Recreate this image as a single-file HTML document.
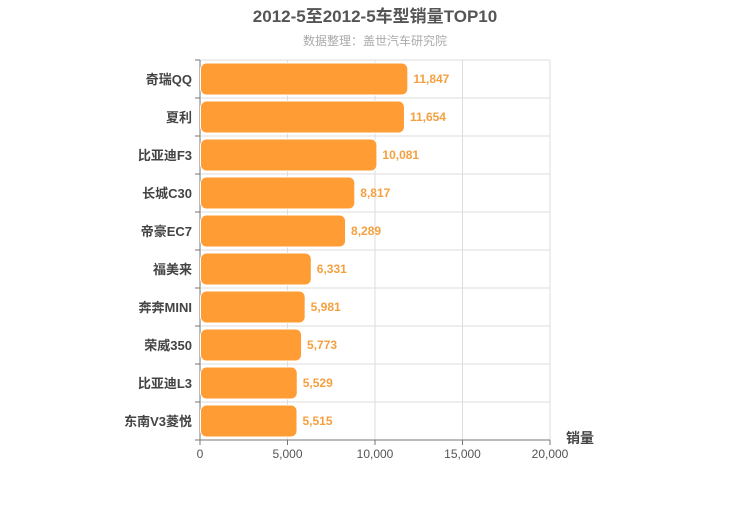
<!DOCTYPE html>
<html><head><meta charset="utf-8"><style>body{margin:0;background:#fff}svg text{font-family:"Liberation Sans","Noto Sans CJK SC",sans-serif}</style></head>
<body>
<svg id="c" width="750" height="500" xmlns="http://www.w3.org/2000/svg">
<text x="375" y="22" text-anchor="middle" font-size="17" font-weight="bold" fill="#555">2012-5至2012-5车型销量TOP10</text>
<text x="375" y="45" text-anchor="middle" font-size="12" fill="#aaa">数据整理：盖世汽车研究院</text>
<g id="g"></g>
<text x="580" y="443" text-anchor="middle" font-size="14" font-weight="bold" fill="#444">销量</text>
</svg>
<script>
const categories=["奇瑞QQ","夏利","比亚迪F3","长城C30","帝豪EC7","福美来","奔奔MINI","荣威350","比亚迪L3","东南V3菱悦"];
const values=[11847,11654,10081,8817,8289,6331,5981,5773,5529,5515];
const ticks=[0,5000,10000,15000,20000];
const tickLabels=["0","5,000","10,000","15,000","20,000"];
const X0=200,X1=550,Y0=60,Y1=440,MAX=20000;
const x=v=>X0+(X1-X0)*v/MAX;
const rowH=(Y1-Y0)/categories.length;
const y=i=>Y0+i*rowH;
const g=document.getElementById('g');
const NS="http://www.w3.org/2000/svg";
function mk(t,a){const e=document.createElementNS(NS,t);for(const k in a)e.setAttribute(k,a[k]);g.appendChild(e);return e;}
ticks.forEach((t,i)=>{
 const l=mk('line',{x1:x(t),x2:x(t),y1:Y0,y2:Y1,stroke:'#ddd'});
 
 
 const tl=mk('text',{x:x(t),y:Y1+18,'text-anchor':'middle','font-size':12,fill:'#555'});
 tl.textContent=tickLabels[i];
 
 
 const tk=mk('line',{x1:x(t),x2:x(t),y1:Y1,y2:Y1+5,stroke:'#777'});
 
 
});
for(let i=0;i<=categories.length;i++){
 const l=mk('line',{x1:X0,x2:X1,y1:y(i),y2:y(i),stroke:'#ddd'});
 
 
 const tk=mk('line',{x1:X0-5,x2:X0,y1:y(i),y2:y(i),stroke:'#777'});
 
 
}
const ax=mk('line',{x1:X0,x2:X0,y1:Y0,y2:Y1,stroke:'#777'});


const bx=mk('line',{x1:X0,x2:X1,y1:Y1,y2:Y1,stroke:'#777'});


categories.forEach((c,i)=>{
 const b=mk('rect',{x:X0+0.5,y:y(i)+3,width:x(values[i])-X0,height:rowH-6,rx:6,fill:'#ff9c33',stroke:'#fff','stroke-width':1});
 
 
 const v=mk('text',{x:x(values[i])+6,y:y(i)+rowH/2+4,'font-size':12,'font-weight':'bold',fill:'#f5a040'});
 v.textContent=values[i].toLocaleString('en-US');
 
 
 const t=mk('text',{x:X0-8,y:y(i)+rowH/2+5,'text-anchor':'end','font-size':13,'font-weight':'bold',fill:'#444'});
 t.textContent=c;
 
 
});
</script>
</body></html>
